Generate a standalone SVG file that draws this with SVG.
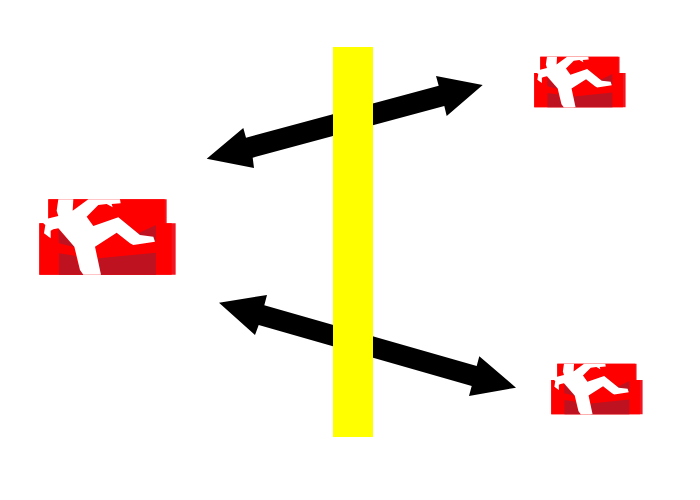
<svg xmlns="http://www.w3.org/2000/svg" width="700" height="500" viewBox="0 0 700 500">
<style>
.red{fill:#f00}
.edge{fill:#f2141e}
.dark{fill:#bf1220}
.fig{fill:#fff}
.arrow{fill:#000}
.bar{fill:#ff0}
</style>
<defs>
<g id="icon">
<path class="edge" d="M55 28H410V100H437V254H28V100H55Z"/>
<path class="red" d="M55 28H404V100H425V254H28V100H55Z"/>
<path class="dark" d="M87 190L135 197L150 240L160 254H87ZM85 118L135 172L87 160ZM195 170L260 128L300 160L378 152V105L325 130L265 82L190 108ZM205 205L378 188V254H205Z"/>
<path class="fig" d="M85 28H130L128 62L175 28H270L272 40L245 42L248 52L230 42L205 45L170 80L190 108L265 82L330 135L370 140L375 155L310 165L300 160L260 128L195 170L213 254H160L150 240L133 170L85 115L70 118L62 122V145L42 130L46 105L40 100L45 88L85 78L80 62Z"/>
</g>
</defs>
<g id="connectors">
<path class="arrow" d="M482.7 85L436 76L438.7 85.7L246 137.7L243.3 128L206.7 158.7L254 168L252.7 157.7L444.3 106L446.7 116Z"/>
<path class="arrow" d="M219 302.7L267 295L264.3 305.3L476.7 366L479.3 356.3L516 387.7L469 396L471.7 386L258.7 325L255 335Z"/>
</g>
<g id="barrier"><rect class="bar" x="333" y="47" width="40" height="390"/></g>
<g id="node-left"><use href="#icon" transform="translate(30 190) scale(.3333)"/></g>
<g id="node-top-right"><use href="#icon" transform="translate(528 50.6) scale(.2233)"/></g>
<g id="node-bottom-right"><use href="#icon" transform="translate(545 357.6) scale(.2233)"/></g>
</svg>
